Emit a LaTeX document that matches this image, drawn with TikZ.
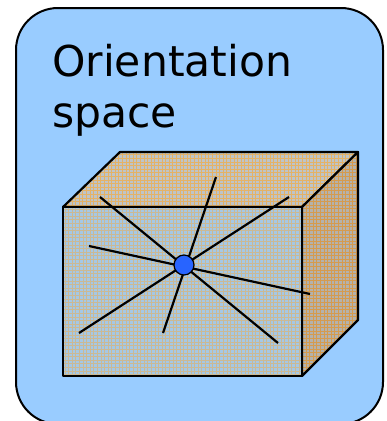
\documentclass[tikz,border=0pt]{standalone}
\usepackage{fontspec}
\setmainfont{DejaVu Sans}
\definecolor{bgblue}{RGB}{153,204,255}
\definecolor{frontbase}{RGB}{165,200,230}
\definecolor{topbase}{RGB}{190,196,200}
\definecolor{sidebase}{RGB}{180,178,172}
\definecolor{gridor}{RGB}{242,172,70}
\definecolor{gridor2}{RGB}{222,150,55}
\definecolor{dotblue}{RGB}{40,100,255}
\tikzset{
  panel/.style={draw=black, line width=2pt, fill=bgblue, rounded corners=42pt},
  face/.style={draw=black, line width=2.2pt, line join=round},
  spoke/.style={draw=black, line width=2.2pt},
  meshline/.style={line width=0.6pt, step=3.6pt},
  hub/.style={circle, draw=black, line width=1.2pt, fill=dotblue, minimum size=20pt, inner sep=0pt}
}
\begin{document}
\begin{tikzpicture}[x=1pt,y=-1pt]
\useasboundingbox (0,0) rectangle (387,421);
\draw[panel] (16,8) rectangle (383,424);
\node[anchor=base west, inner sep=0pt, align=left, font=\fontsize{42.5pt}{51pt}\selectfont] (title) at (52,127) {Orientation\\space};
% cube corners
\coordinate (f1) at (63,207);
\coordinate (f2) at (302,207);
\coordinate (f3) at (302,376);
\coordinate (f4) at (63,376);
\coordinate (b1) at (120,152);
\coordinate (b2) at (358,152);
\coordinate (b3) at (358,320);
% top face
\begin{scope}
\clip (f1) -- (b1) -- (b2) -- (f2) -- cycle;
\fill[topbase] (60,150) rectangle (360,210);
\draw[meshline, gridor, line width=0.8pt, draw opacity=0.75] (60,210) grid (360,150);
\end{scope}
\draw[face] (f1) -- (b1) -- (b2) -- (f2) -- cycle;
% side face
\begin{scope}
\clip (f2) -- (b2) -- (b3) -- (f3) -- cycle;
\fill[sidebase] (300,150) rectangle (360,380);
\draw[meshline, gridor2, line width=0.85pt, draw opacity=0.8] (300,380) grid (360,150);
\end{scope}
\draw[face] (f2) -- (b2) -- (b3) -- (f3) -- cycle;
% front face
\begin{scope}
\clip (f1) rectangle (f3);
\fill[frontbase] (f1) rectangle (f3);
\draw[meshline, gridor, line width=0.5pt, draw opacity=0.5] (60,380) grid (305,205);
\end{scope}
\draw[face] (f1) rectangle (f3);
% spokes
\coordinate (c) at (184,265);
\coordinate (a1) at (100,197);
\coordinate (a2) at (278,343);
\coordinate (s1) at (216,177);
\coordinate (s2) at (163,333);
\coordinate (t1) at (289,197);
\coordinate (t2) at (79,333);
\coordinate (d1) at (89,246);
\coordinate (d2) at (310,294);
\draw[spoke] (a1) -- (a2);
\draw[spoke] (s1) -- (s2);
\draw[spoke] (t1) -- (t2);
\draw[spoke] (d1) -- (d2);
\node[hub] (dot) at (c) {};
\end{tikzpicture}
\end{document}
